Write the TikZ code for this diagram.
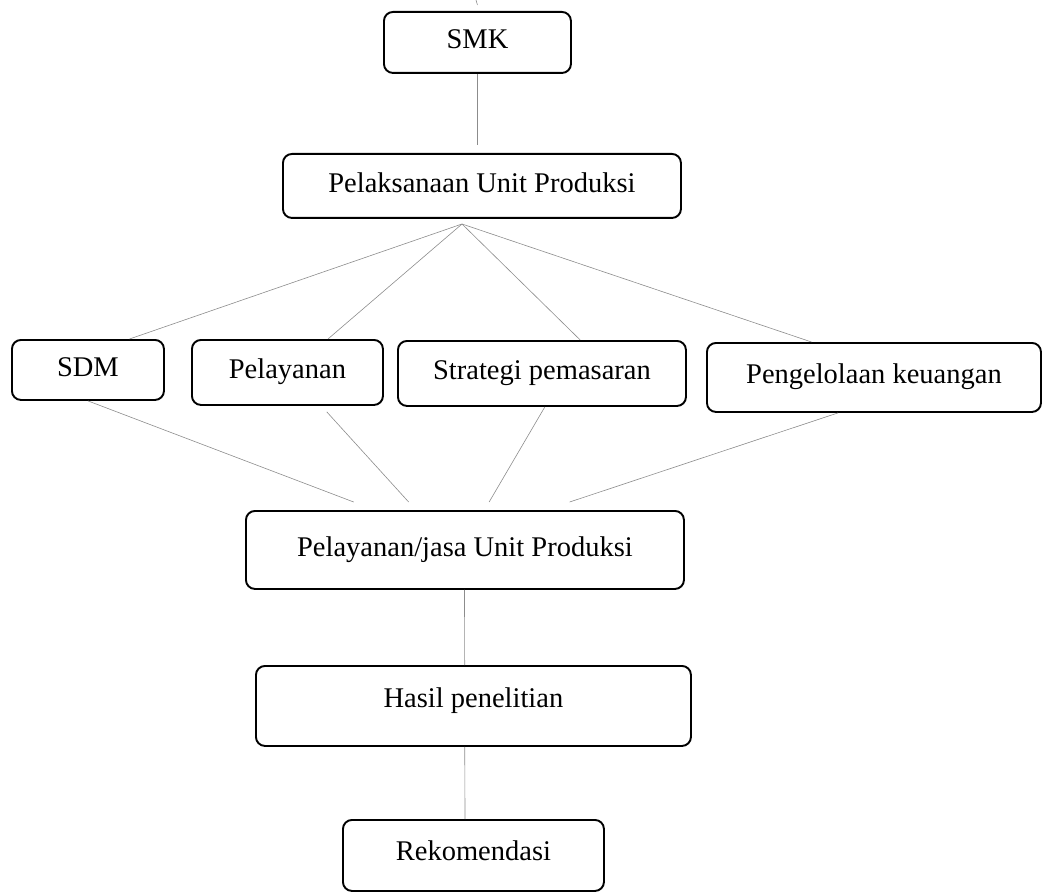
\documentclass[tikz,border=0pt]{standalone}
\usepackage{fontspec}
\setmainfont{Liberation Serif}
\usetikzlibrary{calc}
\begin{document}
\begin{tikzpicture}[x=1pt,y=-1pt,
  box/.style={draw=black, line width=1.9pt, rounded corners=9pt, anchor=north west,
    inner sep=0pt, font=\fontsize{28.5}{31}\selectfont, text height=19pt, text depth=6pt},
  link/.style={draw=black!45, line width=0.6pt}]
\useasboundingbox (0,0) rectangle (1046,893);
% boxes
\node[box, minimum width=187pt, minimum height=61pt] (smk) at (383,11) {SMK};
\node[box, minimum width=398pt, minimum height=64pt] (pup) at (282,153) {Pelaksanaan Unit Produksi};
\node[box, minimum width=152pt, minimum height=60pt] (sdm) at (11,339) {SDM};
\node[box, minimum width=191pt, minimum height=65pt] (pel) at (191,339) {Pelayanan};
\node[box, minimum width=288pt, minimum height=65pt] (str) at (397,340) {Strategi pemasaran};
\node[box, minimum width=334pt, minimum height=69pt] (keu) at (706,342) {Pengelolaan keuangan};
\node[box, minimum width=438pt, minimum height=78pt] (jasa) at (245,510) {Pelayanan/jasa Unit Produksi};
\node[box, minimum width=435pt, minimum height=80pt, text depth=16pt] (hasil) at (255,665) {Hasil penelitian};
\node[box, minimum width=261pt, minimum height=71pt, text depth=9pt] (rek) at (342,819) {Rekomendasi};
% coordinates
\coordinate (top) at (476,0);
\coordinate (fan) at (462,224);
% connectors
\draw[link] (top) -- ($(smk.north)+(0,-6)$);
\draw[link] (smk.south) -- ($(smk.south |- pup.north)+(0,-8)$);
\draw[link] (fan) -- ($(sdm.north west)!0.77!(sdm.north east)$);
\draw[link] (fan) -- ($(pel.north west)!0.71!(pel.north east)$);
\draw[link] (fan) -- ($(str.north west)!0.632!(str.north east)$);
\draw[link] (fan) -- ($(keu.north west)!0.314!(keu.north east)$);
\draw[link] ($(sdm.south west)!0.5!(sdm.south east)$) -- ($(jasa.north west)!0.247!(jasa.north east)+(0,-8)$);
\draw[link] ($(pel.south west)!0.704!(pel.south east)+(0,6)$) -- ($(jasa.north west)!0.372!(jasa.north east)+(0,-8)$);
\draw[link] ($(str.south west)!0.51!(str.south east)$) -- ($(jasa.north west)!0.555!(jasa.north east)+(0,-8)$);
\draw[link] ($(keu.south west)!0.393!(keu.south east)$) -- ($(jasa.north west)!0.738!(jasa.north east)+(0,-8)$);
\draw[link] ($(jasa.south)+(-0.5,0)$) -- ($(hasil.north west)!0.480!(hasil.north east)$);
\draw[link] ($(hasil.south west)!0.480!(hasil.south east)$) -- ($(rek.north west)!0.468!(rek.north east)$);
\end{tikzpicture}
\end{document}
